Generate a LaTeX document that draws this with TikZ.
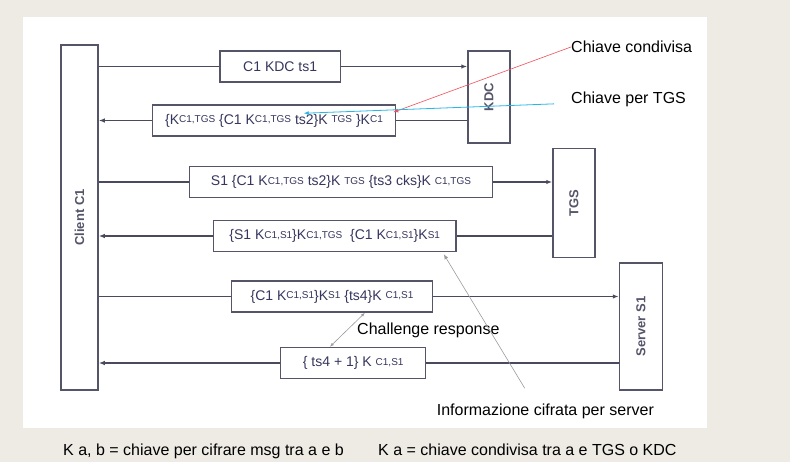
\documentclass[tikz,border=0pt]{standalone}
\usepackage{fontspec}
\usepackage{graphicx}
\setmainfont{Liberation Sans}
\usetikzlibrary{arrows.meta,calc}
\definecolor{Paper}{HTML}{EEEBE4}
\definecolor{Ink}{HTML}{36365E}
\definecolor{Frame}{HTML}{55556A}
\definecolor{Wire}{HTML}{4A4A5E}
\definecolor{Pointer}{HTML}{9C9C9C}
\definecolor{KeyRed}{HTML}{F0505A}
\definecolor{KeyCyan}{HTML}{29B6E8}
\newcommand{\ks}[1]{\raisebox{1.5pt}{\fontsize{10}{11}\selectfont #1}}
\begin{document}
\begin{tikzpicture}[x=1pt,y=-1pt,party/.style={draw=Frame, line width=1.5pt, fill=white, inner sep=0pt, text=Frame, font=\bfseries\fontsize{13}{15}\selectfont},msg/.style={draw=Frame, line width=1.5pt, fill=white, minimum height=31pt, inner sep=0pt, text=Ink, font=\fontsize{14}{16}\selectfont},wire/.style={draw=Wire, line width=1.4pt},tip/.style={-{Latex[length=6pt,width=4.5pt]}},note/.style={font=\fontsize{16}{18}\selectfont, text=black, inner sep=0pt},hint/.style={draw=Pointer, line width=0.6pt}]
\fill[Paper] (0,0) rectangle (790,462);
\fill[white] (23,17) rectangle (707,428);
\node[party, minimum width=37pt, minimum height=345pt] (client) at (79.5,217.5) {\rotatebox{90}{Client C1}};
\node[party, minimum width=42pt, minimum height=92pt] (kdc) at (489,97) {\rotatebox{90}{KDC}};
\node[party, minimum width=42pt, minimum height=109pt] (tgs) at (574,203) {\rotatebox{90}{TGS}};
\node[party, minimum width=43pt, minimum height=127pt] (server) at (641,326.5) {\rotatebox{90}{Server S1}};
\node[msg, minimum width=120.5pt] (m1) at (280.2,66.5) {C1 KDC ts1};
\node[msg, minimum width=243pt] (m2) at (274,120.5) {\{K\ks{C1,TGS} \{C1 K\ks{C1,TGS} ts2\}K \ks{TGS} \}K\ks{C1}};
\node[msg, minimum width=303.4pt] (m3) at (341,182) {S1 \{C1 K\ks{C1,TGS} ts2\}K \ks{TGS} \{ts3 cks\}K \ks{C1,TGS}};
\node[msg, minimum width=242.7pt] (m4) at (334.7,236) {\{S1 K\ks{C1,S1}\}K\ks{C1,TGS} \ \{C1 K\ks{C1,S1}\}K\ks{S1}};
\node[msg, minimum width=200.6pt] (m5) at (332,296.5) {\{C1 K\ks{C1,S1}\}K\ks{S1} \{ts4\}K \ks{C1,S1}};
\node[msg, minimum width=145pt] (m6) at (353.2,363) {\{ ts4 + 1\} K \ks{C1,S1}};
\draw[wire] (client.east |- m1) -- (m1.west);
\draw[wire, tip] (m1.east) -- (kdc.west |- m1);
\draw[wire] (kdc.west |- m2) -- (m2.east);
\draw[wire, tip] (m2.west) -- (client.east |- m2);
\draw[wire] (client.east |- m3) -- (m3.west);
\draw[wire, tip] (m3.east) -- (tgs.west |- m3);
\draw[wire] (tgs.west |- m4) -- (m4.east);
\draw[wire, tip] (m4.west) -- (client.east |- m4);
\draw[wire] (client.east |- m5) -- (m5.west);
\draw[wire, tip] (m5.east) -- (server.west |- m5);
\draw[wire] (server.west |- m6) -- (m6.east);
\draw[wire, tip] (m6.west) -- (client.east |- m6);
\node[note, anchor=base west] (shared) at (571,52.7) {Chiave condivisa};
\node[note, anchor=base west] (tgskey) at (571,104) {Chiave per TGS};
\node[note, anchor=base west] (challenge) at (357,334.3) {Challenge response};
\node[note, anchor=base west] (info) at (436.7,415) {Informazione cifrata per server};
\node[note, anchor=base west] (legendab) at (63,455) {K a, b = chiave per cifrare msg tra a e b};
\node[note, anchor=base west] (legenda) at (378,455) {K a = chiave condivisa tra a e TGS o KDC};
\coordinate (sharedtip) at ($(m2.north east)+(-3,8)$);
\coordinate (tgskeyfrom) at ($(tgskey.west)+(-17,4)$);
\coordinate (tgskeytip) at ($(m2.north west)+(152,9)$);
\draw[KeyRed, line width=0.6pt, -{Latex[length=5pt,width=4pt]}] (shared.west) -- (sharedtip);
\draw[KeyCyan, line width=0.8pt, -{Latex[length=5pt,width=4pt]}] (tgskeyfrom) -- (tgskeytip);
\draw[hint, {Latex[length=4pt,width=3pt]}-{Latex[length=4pt,width=3pt]}] ($(m5.south west)+(134,0)$) -- ($(m6.north west)+(50,0)$);
\draw[hint, -{Latex[length=5pt,width=4pt]}] ($(info.north west)+(88,-15)$) -- ($(m4.south east)+(-13,2)$);
\end{tikzpicture}
\end{document}
